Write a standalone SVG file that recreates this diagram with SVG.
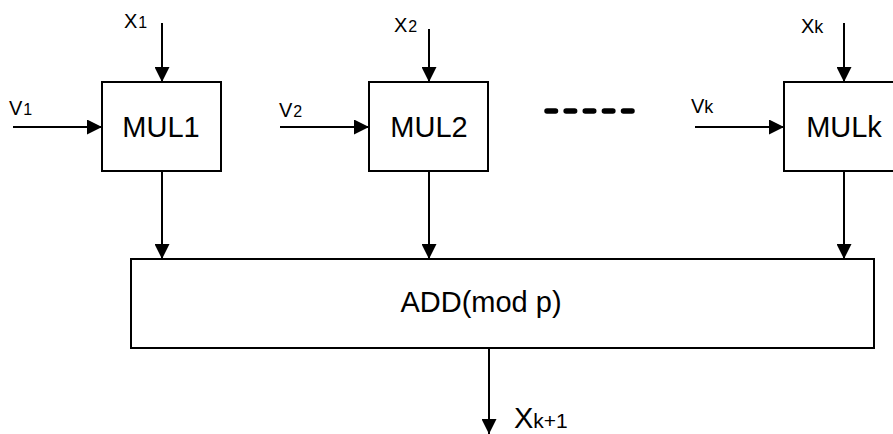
<svg xmlns="http://www.w3.org/2000/svg" width="893" height="434" viewBox="0 0 893 434">
  <style>
    .box { fill: #ffffff; stroke: #000000; stroke-width: 2; }
    .wire { fill: none; stroke: #000000; stroke-width: 2; marker-end: url(#arrow); }
    .big { font-family: "Liberation Sans", Arial, sans-serif; font-size: 29px; fill: #000000; }
    .lbl { font-family: "Liberation Sans", Arial, sans-serif; font-size: 20px; fill: #000000; }
    .out { font-family: "Liberation Sans", Arial, sans-serif; font-size: 29px; fill: #000000; }
    .sub { font-size: 16px; }
    .subk { font-size: 18px; }
    .subout { font-size: 21px; }
    .dots { fill: none; stroke: #000000; stroke-width: 5.5; stroke-linecap: round; stroke-dasharray: 8.5 10.625; }
  </style>
  <defs>
    <marker id="arrow" markerUnits="userSpaceOnUse" markerWidth="15" markerHeight="15" refX="15" refY="7.5" orient="auto">
      <path d="M0,0 L15,7.5 L0,15 Z" fill="#000000"/>
    </marker>
  </defs>
  <rect width="893" height="434" fill="#ffffff"/>

  <g id="connectors">
    <line class="wire" x1="162" y1="23" x2="162" y2="82"/>
    <line class="wire" x1="13" y1="127" x2="102" y2="127"/>
    <line class="wire" x1="429" y1="29" x2="429" y2="82"/>
    <line class="wire" x1="280" y1="127" x2="369" y2="127"/>
    <line class="wire" x1="844" y1="23" x2="844" y2="82"/>
    <line class="wire" x1="695" y1="127" x2="784" y2="127"/>
    <line class="wire" x1="162" y1="171" x2="162" y2="259"/>
    <line class="wire" x1="429" y1="171" x2="429" y2="259"/>
    <line class="wire" x1="844" y1="171" x2="844" y2="259"/>
    <line class="wire" x1="489" y1="348" x2="489" y2="434"/>
  </g>

  <g id="mul1">
    <rect class="box" x="102" y="82" width="119" height="89"/>
    <text class="big" x="161" y="137" text-anchor="middle">MUL1</text>
  </g>
  <g id="mul2">
    <rect class="box" x="369" y="82" width="119" height="89"/>
    <text class="big" x="429" y="137" text-anchor="middle">MUL2</text>
  </g>
  <g id="mulk">
    <rect class="box" x="784" y="82" width="120" height="89"/>
    <text class="big" x="844" y="137" text-anchor="middle">MULk</text>
  </g>
  <g id="add">
    <rect class="box" x="131" y="259" width="743" height="89"/>
    <text class="big" x="481" y="312" text-anchor="middle">ADD(mod p)</text>
  </g>

  <g id="labels">
    <text class="lbl" x="124" y="28">X<tspan class="sub" dx="1">1</tspan></text>
    <text class="lbl" x="9" y="115">V<tspan class="sub" dx="1">1</tspan></text>
    <text class="lbl" x="394" y="32">X<tspan class="sub" dx="1">2</tspan></text>
    <text class="lbl" x="279" y="117">V<tspan class="sub" dx="1">2</tspan></text>
    <text class="lbl" x="801" y="33">X<tspan class="subk">k</tspan></text>
    <text class="lbl" x="691" y="113">V<tspan class="subk">k</tspan></text>
    <text class="out" x="514" y="428">X<tspan class="subout">k+1</tspan></text>
  </g>

  <line id="ellipsis" class="dots" x1="547" y1="111" x2="632" y2="111"/>
</svg>
